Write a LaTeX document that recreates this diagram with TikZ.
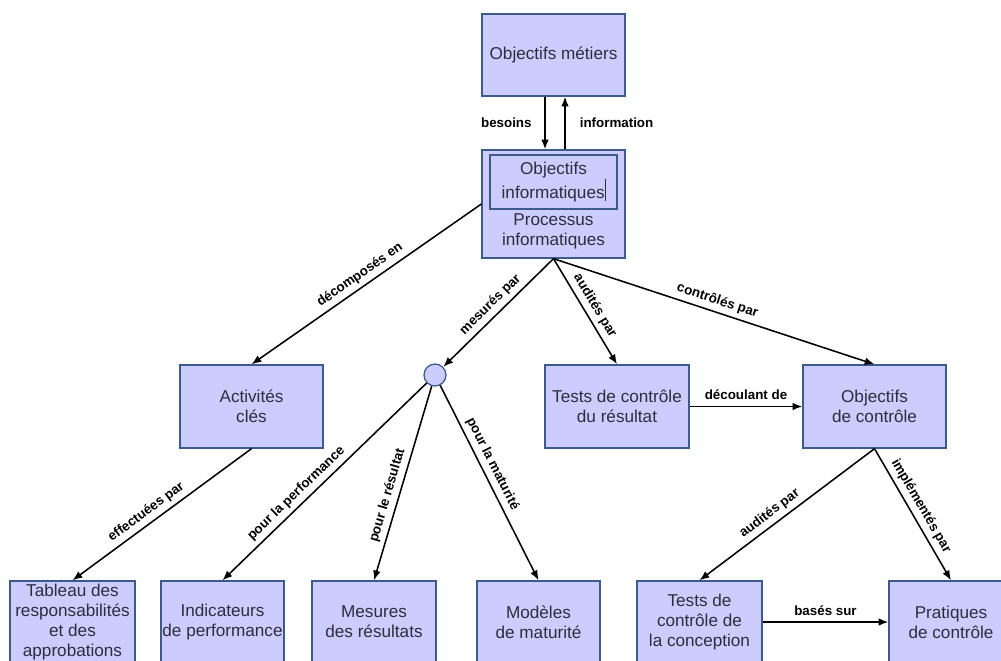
\documentclass[tikz,border=0pt]{standalone}
\usepackage{fontspec}
\setmainfont{Liberation Sans}
\usetikzlibrary{arrows.meta,calc}
\definecolor{boxfill}{RGB}{204,204,255}
\definecolor{boxline}{RGB}{60,90,140}
\definecolor{boxtext}{RGB}{45,45,60}

\begin{document}
\begin{tikzpicture}[x=0.025cm,y=-0.025cm,
  box/.style={draw=boxline,fill=boxfill,line width=0.9pt,inner sep=0pt,align=center,
    text=boxtext,font=\fontsize{12.2}{14.2}\selectfont,minimum height=2.05cm},
  lien/.style={-{Latex[length=7pt,width=5.5pt]},line width=1.1pt},
  lbl/.style={font=\fontsize{9.5}{10}\selectfont\bfseries,inner sep=1pt}]
          \useasboundingbox (0,0) rectangle (1001,660);
          \clip (0,0) rectangle (1001,660);
          \node[box,minimum width=3.575cm] (metiers) at (553.5,55) {Objectifs métiers};
          \node[box,minimum width=3.575cm,minimum height=2.7cm] (proc) at (553.5,204) {};
          \node[box,minimum width=3.175cm,minimum height=1.35cm] (objinfo) at (553.5,182)
            {Objectifs\\informatiques\rule[-0.25ex]{0.5pt}{2.4ex}};
          \node[align=center,text=boxtext,font=\fontsize{12.2}{14.2}\selectfont] (proctxt) at (553.5,231)
            {Processus\\informatiques};
          \node[box,minimum width=3.575cm,minimum height=2.075cm] (activ) at (251.5,406.5) {Activités\\clés};
          \node[draw=boxline,fill=boxfill,line width=0.9pt,circle,minimum size=0.55cm,inner sep=0pt] (circ) at (435,375) {};
          \node[box,minimum width=3.6cm,minimum height=2.075cm] (testres) at (617,406.5) {Tests de contrôle\\du résultat};
          \node[box,minimum width=3.575cm,minimum height=2.075cm] (objctrl) at (874.5,406.5) {Objectifs\\de contrôle};
          \node[box,minimum width=3.125cm] (tableau) at (72.5,622) {Tableau des\\responsabilités\\et des\\approbations};
          \node[box,minimum width=3.075cm] (indic) at (222.5,622) {Indicateurs\\de performance};
          \node[box,minimum width=3.1cm] (mesures) at (374,622) {Mesures\\des résultats};
          \node[box,minimum width=3.075cm] (modeles) at (538.5,622) {Modèles\\de maturité};
          \node[box,minimum width=3.125cm] (testconc) at (699.5,622) {Tests de\\contrôle de\\la conception};
          \node[box,minimum width=3.1cm] (pratiques) at (951,622) {Pratiques\\de contrôle};

          \draw[lien] ($(metiers.south)+(-8.5,0)$) -- ($(proc.north)+(-8.5,0)$)
            node[lbl,midway,left=8pt] {besoins};
          \draw[lien] ($(proc.north)+(11.5,0)$) -- ($(metiers.south)+(11.5,0)$)
            node[lbl,midway,right=9pt] {information};
          \draw[lien] (proc.west) -- (activ.north) node[lbl,sloped,above=2pt,pos=0.5] {décomposés en};
          \draw[lien] (proc.south) -- (circ) node[lbl,sloped,above=2pt,pos=0.5] {mesurés par};
          \draw[lien] (proc.south) -- (testres.north) node[lbl,sloped,above=2pt,pos=0.5] {audités par};
          \draw[lien] (proc.south) -- (objctrl.north) node[lbl,sloped,above=2pt,pos=0.5] {contrôlés par};
          \draw[lien] (testres.east) -- (objctrl.west) node[lbl,above=3pt,midway] {découlant de};
          \draw[lien] (activ.south) -- (tableau.north) node[lbl,sloped,above=2pt,pos=0.55] {effectuées par};
          \draw[lien] (circ) -- (indic.north) node[lbl,sloped,above=2pt,pos=0.6] {pour la performance};
          \draw[lien] (circ) -- (mesures.north) node[lbl,sloped,above=2pt,pos=0.58] {pour le résultat};
          \draw[lien] (circ) -- (modeles.north) node[lbl,sloped,above=2pt,pos=0.43] {pour la maturité};
          \draw[lien] (objctrl.south) -- (testconc.north) node[lbl,sloped,above=2pt,pos=0.56] {audités par};
          \draw[lien] (objctrl.south) -- (pratiques.north) node[lbl,sloped,above=2pt,pos=0.48] {implémentés par};
          \draw[lien] (testconc.east) -- (pratiques.west) node[lbl,above=3pt,midway] {basés sur};
	\end{tikzpicture}
\end{document}
